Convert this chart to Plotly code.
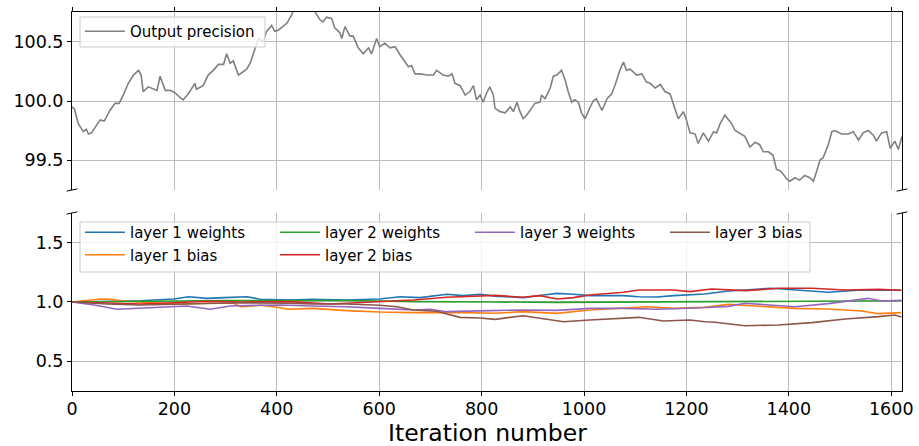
import plotly.graph_objects as go

# ---- Output precision (top panel) ----
prec_x = [0, 5, 12, 22, 28, 32, 38, 45, 55, 63, 74, 84, 92, 100, 110, 120, 130, 135, 139, 149,
          159, 166, 172, 182, 192, 201, 211, 217, 227, 240, 243, 256, 266, 276, 286, 296, 302, 309,
          315, 322, 325, 335, 341, 348, 357, 364, 373, 380, 390, 396, 403, 413, 420, 429, 435, 445,
          455, 465, 474, 484, 490, 497, 507, 513, 523, 527, 533, 543, 549, 559, 569, 579, 585, 595,
          601, 611, 621, 631, 641, 650, 657, 663, 670, 680, 693, 706, 712, 725, 735, 742, 748, 758,
          768, 777, 784, 790, 797, 803, 810, 816, 823, 826, 836, 846, 856, 862, 869, 875, 881, 888,
          894, 904, 914, 917, 924, 934, 940, 947, 956, 963, 969, 976, 982, 989, 995, 1002, 1011,
          1018, 1024, 1035, 1045, 1054, 1061, 1070, 1077, 1083, 1090, 1103, 1113, 1122, 1129, 1139,
          1149, 1158, 1168, 1175, 1184, 1194, 1200, 1207, 1217, 1223, 1233, 1243, 1253, 1259, 1266,
          1275, 1282, 1288, 1295, 1305, 1314, 1324, 1334, 1343, 1350, 1360, 1369, 1376, 1383, 1389,
          1396, 1402, 1412, 1421, 1431, 1441, 1448, 1454, 1461, 1467, 1477, 1484, 1490, 1503, 1516,
          1526, 1536, 1545, 1555, 1565, 1571, 1581, 1591, 1598, 1607, 1614, 1621]
prec_y = [99.95, 99.93, 99.81, 99.74, 99.76, 99.72, 99.73, 99.78, 99.84, 99.83, 99.92, 99.98, 99.98,
          100.05, 100.15, 100.22, 100.26, 100.22, 100.08, 100.12, 100.10, 100.09, 100.21, 100.09,
          100.09, 100.07, 100.03, 100.01, 100.06, 100.15, 100.10, 100.13, 100.22, 100.26, 100.31,
          100.31, 100.40, 100.32, 100.34, 100.26, 100.22, 100.25, 100.27, 100.32, 100.45, 100.53,
          100.50, 100.59, 100.64, 100.59, 100.60, 100.64, 100.66, 100.73, 100.80, 100.84, 100.82,
          100.80, 100.76, 100.69, 100.67, 100.71, 100.70, 100.62, 100.58, 100.53, 100.63, 100.55,
          100.55, 100.45, 100.40, 100.45, 100.40, 100.53, 100.46, 100.49, 100.45, 100.46, 100.39,
          100.33, 100.29, 100.30, 100.23, 100.23, 100.22, 100.22, 100.26, 100.22, 100.21, 100.23,
          100.15, 100.13, 100.05, 100.08, 100.13, 100.01, 100.05, 99.99, 100.07, 100.12, 100.05,
          99.94, 99.91, 99.90, 99.95, 99.91, 99.99, 99.91, 99.85, 99.88, 99.92, 99.98, 99.99,
          100.05, 100.02, 100.11, 100.21, 100.22, 100.26, 100.18, 100.08, 99.99, 100.01, 99.99,
          99.90, 99.85, 99.94, 100.00, 100.02, 99.92, 100.02, 100.06, 100.14, 100.26, 100.33,
          100.26, 100.27, 100.22, 100.23, 100.16, 100.15, 100.11, 100.14, 100.08, 100.06, 99.97,
          99.85, 99.91, 99.84, 99.73, 99.72, 99.64, 99.73, 99.66, 99.74, 99.73, 99.81, 99.88,
          99.84, 99.81, 99.75, 99.72, 99.70, 99.61, 99.65, 99.63, 99.57, 99.57, 99.54, 99.42,
          99.41, 99.38, 99.34, 99.32, 99.35, 99.33, 99.37, 99.35, 99.32, 99.40, 99.50, 99.52,
          99.63, 99.74, 99.75, 99.72, 99.72, 99.74, 99.67, 99.73, 99.75, 99.71, 99.66, 99.73,
          99.74, 99.60, 99.66, 99.59, 99.70]

# ---- Relative parameter scales (bottom panel) ----
l1w_x = [0, 69, 134, 160, 199, 228, 264, 297, 342, 368, 406, 424, 471, 536, 601, 641, 680, 732, 764,
         797, 826, 881, 921, 947, 979, 1011, 1077, 1107, 1142, 1175, 1236, 1282, 1366, 1412, 1477,
         1542, 1607, 1620]
l1w_y = [1.0, 1.003, 1.011, 1.017, 1.025, 1.045, 1.031, 1.037, 1.045, 1.023, 1.017, 1.017, 1.023,
         1.017, 1.025, 1.045, 1.037, 1.065, 1.054, 1.065, 1.050, 1.037, 1.059, 1.073, 1.065, 1.054,
         1.054, 1.045, 1.042, 1.054, 1.068, 1.093, 1.116, 1.102, 1.082, 1.102, 1.102, 1.099]

l1b_x = [0, 56, 76, 100, 127, 166, 211, 264, 316, 329, 368, 394, 424, 471, 536, 601, 667, 732, 826,
         881, 947, 1011, 1077, 1122, 1175, 1236, 1282, 1347, 1412, 1477, 1542, 1575, 1620]
l1b_y = [1.0, 1.025, 1.023, 1.008, 1.0, 0.994, 0.983, 0.989, 0.989, 0.960, 0.972, 0.960, 0.938,
         0.946, 0.927, 0.915, 0.910, 0.912, 0.904, 0.918, 0.904, 0.932, 0.946, 0.960, 0.946, 0.955,
         0.980, 0.960, 0.946, 0.941, 0.924, 0.901, 0.910]

l2w_x = [0, 100, 199, 300, 424, 536, 667, 732, 826, 947, 1077, 1207, 1300, 1412, 1510, 1620]
l2w_y = [1.0, 1.005, 1.010, 1.012, 1.012, 1.012, 1.003, 1.0, 1.0, 0.997, 1.0, 1.003, 1.005, 1.003,
         1.005, 1.010]

l2b_x = [0, 69, 134, 199, 264, 329, 406, 424, 504, 601, 667, 732, 826, 881, 914, 947, 979, 1011,
         1077, 1107, 1175, 1207, 1236, 1249, 1315, 1380, 1445, 1510, 1575, 1620]
l2b_y = [1.0, 0.989, 0.983, 0.994, 1.006, 1.0, 1.0, 1.003, 0.983, 1.003, 1.017, 1.040, 1.056, 1.040,
         1.054, 1.025, 1.037, 1.059, 1.082, 1.102, 1.102, 1.088, 1.107, 1.110, 1.096, 1.116, 1.116,
         1.102, 1.107, 1.099]

l3w_x = [0, 43, 88, 127, 179, 224, 270, 309, 368, 406, 471, 536, 601, 667, 699, 732, 816, 881, 947,
         1011, 1077, 1142, 1217, 1282, 1314, 1380, 1412, 1477, 1555, 1581, 1620]
l3w_y = [1.0, 0.975, 0.938, 0.946, 0.960, 0.966, 0.938, 0.966, 0.972, 0.975, 0.966, 0.960, 0.946,
         0.932, 0.938, 0.918, 0.927, 0.932, 0.929, 0.946, 0.946, 0.938, 0.949, 0.963, 0.989, 0.969,
         0.960, 0.986, 1.031, 1.008, 1.014]

l3b_x = [0, 69, 134, 199, 264, 329, 424, 471, 536, 601, 634, 667, 712, 758, 797, 826, 881, 914, 960,
         1011, 1077, 1107, 1155, 1207, 1236, 1256, 1314, 1380, 1445, 1510, 1575, 1607, 1620]
l3b_y = [1.0, 0.983, 0.975, 0.983, 0.989, 0.994, 0.989, 0.983, 0.983, 0.972, 0.960, 0.932, 0.921,
         0.870, 0.864, 0.853, 0.884, 0.862, 0.833, 0.847, 0.862, 0.870, 0.839, 0.847, 0.833, 0.828,
         0.799, 0.805, 0.825, 0.856, 0.876, 0.890, 0.873]

x_ticks = [0, 200, 400, 600, 800, 1000, 1200, 1400, 1600]
top_ticks = [99.5, 100.0, 100.5]
top_labels = ["99.5", "100.0", "100.5"]
bot_ticks = [0.5, 1.0, 1.5]
bot_labels = ["0.5", "1.0", "1.5"]

FONT = "DejaVu Sans"
GRID = "#bdbdbd"

fig = go.Figure()
fig.add_trace(go.Scatter(x=prec_x, y=prec_y, mode="lines", name="Output precision",
                         line=dict(color="#808080", width=1.6), xaxis="x2", yaxis="y2",
                         legend="legend"))

series = [
    ("layer 1 weights", l1w_x, l1w_y, "#1f77b4", 1),
    ("layer 1 bias", l1b_x, l1b_y, "#ff7f0e", 5),
    ("layer 2 weights", l2w_x, l2w_y, "#2ca02c", 2),
    ("layer 2 bias", l2b_x, l2b_y, "#d62728", 6),
    ("layer 3 weights", l3w_x, l3w_y, "#9467bd", 3),
    ("layer 3 bias", l3b_x, l3b_y, "#8c564b", 4),
]
for name, xs, ys, col, rank in series:
    fig.add_trace(go.Scatter(x=xs, y=ys, mode="lines", name=name,
                             line=dict(color=col, width=1.6), xaxis="x", yaxis="y",
                             legend="legend2", legendrank=rank))

axis_common = dict(showline=True, linecolor="black", linewidth=1, ticks="outside", ticklen=4,
                   tickcolor="black", showgrid=True, gridcolor=GRID, gridwidth=1, zeroline=False,
                   automargin=False,
                   tickfont=dict(family=FONT, size=17.5, color="black"))

top_dom = 0.5303
bot_dom = 0.4697

fig.update_layout(
    width=919, height=446,
    margin=dict(l=72, r=17, t=12, b=55, autoexpand=False),
    paper_bgcolor="white", plot_bgcolor="white",
    font=dict(family=FONT, color="black"),
    xaxis=dict(domain=[0, 1], range=[0, 1621], anchor="y", tickvals=x_ticks,
               ticklabelstandoff=-2, **axis_common),
    yaxis=dict(domain=[0, bot_dom], range=[0.246, 1.754], anchor="x", tickvals=bot_ticks,
               ticktext=bot_labels, mirror=True, **axis_common),
    xaxis2=dict(domain=[0, 1], range=[0, 1621], anchor="y2", side="top", matches="x",
                tickvals=x_ticks, showticklabels=False, **axis_common),
    yaxis2=dict(domain=[top_dom, 1], range=[99.246, 100.754], anchor="x2", tickvals=top_ticks,
                ticktext=top_labels, mirror=True, **axis_common),
    legend=dict(x=0.0096, y=0.9921, xanchor="left", yanchor="top", itemwidth=40,
                bgcolor="rgba(0,0,0,0)", borderwidth=0,
                font=dict(family=FONT, size=15)),
    legend2=dict(x=0.0096, y=0.4617, xanchor="left", yanchor="top", orientation="h",
                 entrywidth=140, traceorder="normal", tracegroupgap=0, itemwidth=40,
                 bgcolor="rgba(0,0,0,0)", borderwidth=0,
                 font=dict(family=FONT, size=15)),
    showlegend=True,
    annotations=[dict(text="Iteration number", xref="paper", yref="paper", x=0.5,
                      y=(391 - 433) / 379, xanchor="center", yanchor="middle",
                      showarrow=False, font=dict(family=FONT, size=23.5, color="black"))],
)

shapes = []
# legend frames (matplotlib-style translucent boxes)
for (x0, x1, y0, y1) in [(0.00964, 0.2325, 0.9077, 0.9868), (0.00964, 0.8892, 0.3140, 0.4459)]:
    shapes.append(dict(type="rect", xref="paper", yref="paper", x0=x0, x1=x1, y0=y0, y1=y1,
                       fillcolor="rgba(255,255,255,0.8)", line=dict(color="#cccccc", width=1),
                       layer="above"))
# broken-axis diagonal marks
dx = 0.0065
dy = 0.003
for yc in (top_dom, bot_dom):
    for xc in (0.0, 1.0):
        shapes.append(dict(type="line", xref="paper", yref="paper",
                           x0=xc - dx, y0=yc - dy, x1=xc + dx, y1=yc + dy,
                           line=dict(color="black", width=1)))
fig.update_layout(shapes=shapes)

fig.write_html("out.html")
